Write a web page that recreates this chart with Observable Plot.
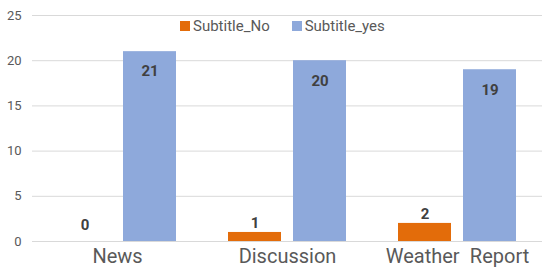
<!DOCTYPE html>
<html>
<head>
<meta charset="utf-8">
<script src="https://cdn.jsdelivr.net/npm/d3@7"></script>
<script src="https://cdn.jsdelivr.net/npm/@observablehq/plot@0.6"></script>
<style>
  html, body { margin: 0; padding: 0; background: #fff; }
  #wrap { position: relative; width: 550px; height: 275px; font-family: Roboto, sans-serif; }
  #legend { position: absolute; top: 17px; left: 180px; display: flex; align-items: center; font-size: 15px; color: #595959; }
  .item { display: flex; align-items: center; }
  .sw { width: 10px; height: 10px; margin-right: 3px; }
</style>
</head>
<body>
<div id="wrap">
  <div id="chart"></div>
  <div id="legend"></div>
</div>
<script>
const categories = ["News", "Discussion", "Weather Report"];
const series = ["Subtitle_No", "Subtitle_yes"];
const subtitleNo = [0, 1, 2];
const subtitleYes = [21, 20, 19];
const yTicks = [0, 5, 10, 15, 20, 25];
const colors = ["#E36C0A", "#8EA9DB"];

const rows = [];
categories.forEach((c, i) => {
  rows.push({category: c, series: series[0], value: subtitleNo[i]});
  rows.push({category: c, series: series[1], value: subtitleYes[i]});
});
const noRows = rows.filter(d => d.series === series[0]);
const yesRows = rows.filter(d => d.series === series[1]);

const chart = Plot.plot({
  width: 550,
  height: 275,
  marginTop: 15,
  marginBottom: 34,
  marginLeft: 31,
  marginRight: 7,
  style: {fontFamily: "Roboto, sans-serif", background: "#fff"},
  y: {domain: [0, 25], label: null},
  fx: {domain: categories, paddingInner: 0, paddingOuter: 0, label: null},
  x: {domain: series, paddingInner: 0.183, paddingOuter: 0.394, axis: null},
  color: {domain: series, range: colors},
  marks: [
    Plot.gridY(yTicks, {stroke: "#d9d9d9", strokeOpacity: 1}),
    Plot.axisY(yTicks, {tickSize: 0, tickPadding: 11, fontSize: 13, color: "#595959", label: null}),
    Plot.axisFx({anchor: "bottom", tickSize: 0, tickPadding: 7, fontSize: 20, color: "#595959", label: null,
      tickFormat: d => d.replace(" ", "\u2002")}),
    Plot.barY(rows, {fx: "category", x: "series", y: "value", fill: "series"}),
    Plot.text(noRows.filter(d => d.value !== 0), {fx: "category", x: "series", y: "value", text: d => String(d.value),
      dy: -9, fontSize: 15, fontWeight: "bold", fill: "#404040"}),
    Plot.text(noRows.filter(d => d.value === 0), {fx: "category", x: "series", y: "value", text: d => String(d.value),
      dy: -16, fontSize: 15, fontWeight: "bold", fill: "#404040"}),
    Plot.text(yesRows, {fx: "category", x: "series", y: "value", text: d => String(d.value),
      dy: 20, fontSize: 15, fontWeight: "bold", fill: "#404040"})
  ]
});
document.getElementById("chart").appendChild(chart);

const legend = document.getElementById("legend");
series.forEach((s, i) => {
  const item = document.createElement("div");
  item.className = "item";
  if (i > 0) item.style.marginLeft = "22px";
  const sw = document.createElement("div");
  sw.className = "sw";
  sw.style.background = colors[i];
  const label = document.createElement("span");
  label.textContent = s;
  item.appendChild(sw);
  item.appendChild(label);
  legend.appendChild(item);
});
</script>
</body>
</html>
